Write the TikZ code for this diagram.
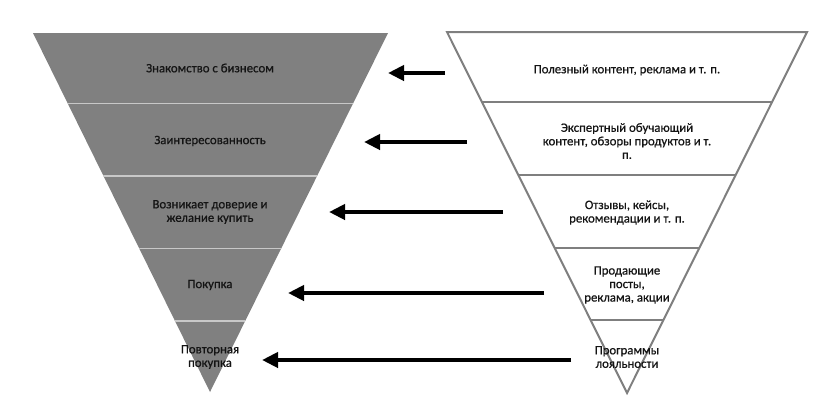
\documentclass[tikz,border=0pt]{standalone}
\usepackage{fontspec}
\setmainfont{Carlito}
\newfontfamily\lblfont[FakeBold=0.6]{Carlito}
\usetikzlibrary{arrows.meta}
\definecolor{funnelgray}{HTML}{808080}
\definecolor{divgray}{HTML}{C8C8C8}
\definecolor{outgray}{HTML}{7F7F7F}
\definecolor{txt}{HTML}{141414}
\tikzset{
  lbl/.style={align=center, font=\lblfont\fontsize{12.8}{13.5}\selectfont, text=txt, inner sep=0pt},
  conn/.style={line width=4.5pt, -{Triangle[length=16pt,width=15pt]}},
}
\begin{document}
\begin{tikzpicture}[x=1pt,y=-1pt]
\useasboundingbox (0,0) rectangle (837,402);
% left funnel
\fill[funnelgray] (33,33) -- (388,33) -- (210,392) -- cycle;
\begin{scope}
\clip (33,33) -- (388,33) -- (210,392) -- cycle;
\foreach \yy in {103.5,176,248.5,321}
  \draw[divgray, line width=1.4pt] (0,\yy) -- (420,\yy);
\end{scope}
% right funnel
\begin{scope}
\clip (447,32) -- (807,32) -- (627,393) -- cycle;
\foreach \yy in {102,175,248,320}
  \draw[outgray, line width=2pt] (420,\yy) -- (837,\yy);
\end{scope}
\draw[outgray, line width=2pt, line join=miter] (447,32) -- (807,32) -- (627,393) -- cycle;
% left labels
\node[lbl] (l1) at (210,68) {Знакомство с бизнесом};
\node[lbl] (l2) at (210,141) {Заинтересованность};
\node[lbl] (l3) at (210,212) {Возникает доверие и\\желание купить};
\node[lbl] (l4) at (210,285) {Покупка};
\node[lbl] (l5) at (210,357) {Повторная\\покупка};
% right labels
\node[lbl] (r1) at (627,70) {Полезный контент, реклама и т. п.};
\node[lbl] (r2) at (627,141) {Экспертный обучающий\\контент, обзоры продуктов и т.\\п.};
\node[lbl] (r3) at (627,212.5) {Отзывы, кейсы,\\рекомендации и т. п.};
\node[lbl] (r4) at (627,285) {Продающие\\посты,\\реклама, акции};
\node[lbl] (r5) at (627,357) {Программы\\лояльности};
% arrow ends
\coordinate (s1) at (445,73);  \coordinate (e1) at (388,73);
\coordinate (s2) at (467,142); \coordinate (e2) at (364,142);
\coordinate (s3) at (503,212); \coordinate (e3) at (329,212);
\coordinate (s4) at (544,293); \coordinate (e4) at (288,293);
\coordinate (s5) at (571,360); \coordinate (e5) at (262,360);
\foreach \i in {1,...,5}
  \draw[conn] (s\i) -- (e\i);
\end{tikzpicture}
\end{document}
